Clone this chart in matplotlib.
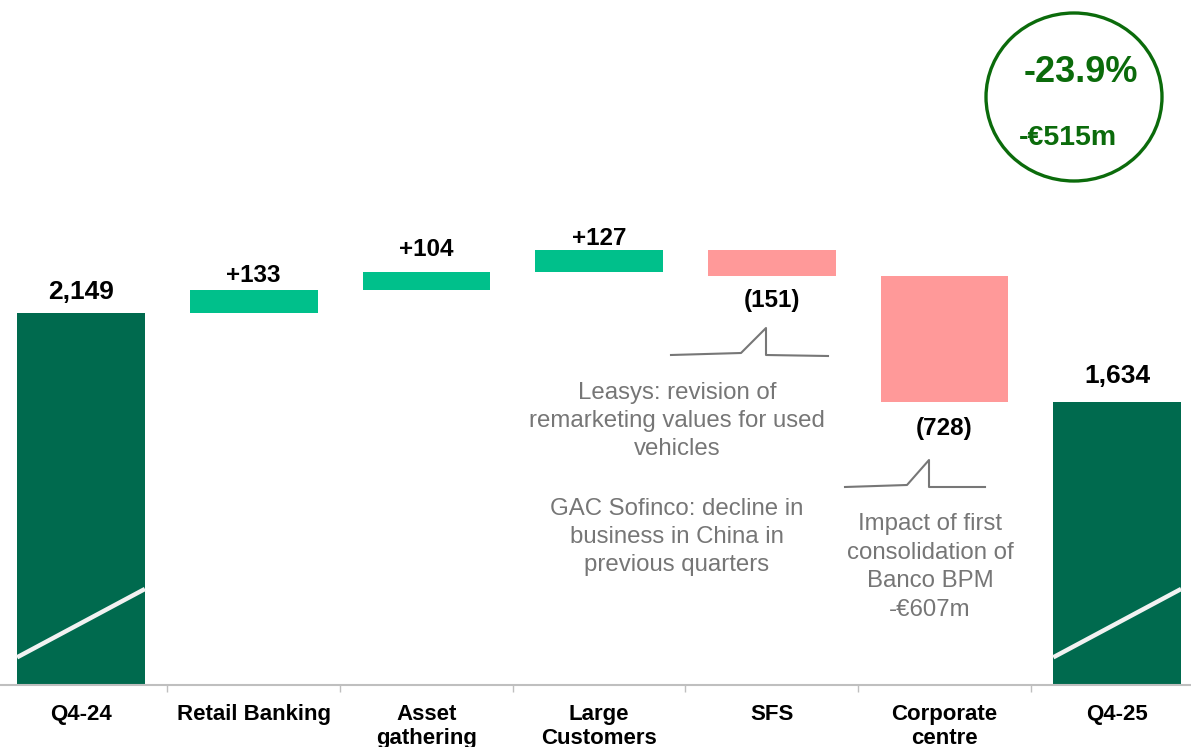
import matplotlib
matplotlib.use("Agg")
import matplotlib.pyplot as plt
from matplotlib.patches import Ellipse

plt.rcParams["font.family"] = ["Liberation Sans", "DejaVu Sans"]

# data
categories = ["Q4-24", "Retail Banking", "Asset\ngathering", "Large\nCustomers",
              "SFS", "Corporate\ncentre", "Q4-25"]
start_total = 2149
deltas = [133, 104, 127, -151, -728]
end_total = 1634
value_labels = ["2,149", "+133", "+104", "+127", "(151)", "(728)", "1,634"]
label_gap = [9, 3, 11, 0, 13, 15, 14]  # px between bar edge and label

notes = [
    "Leasys: revision of\nremarketing values for used\nvehicles",
    "GAC Sofinco: decline in\nbusiness in China in\nprevious quarters",
    "Impact of first\nconsolidation of\nBanco BPM\n-€607m",
]
badge_pct = "-23.9%"
badge_abs = "-€515m"

DARK = "#006A4E"
UP = "#00C08B"
DOWN = "#FF9999"
GREY_TXT = "#767676"
BADGE = "#0B6B0B"

W, H = 1191, 747
fig = plt.figure(figsize=(W / 100, H / 100), dpi=100)
ax = fig.add_axes([0, 62 / H, 1, 685 / H])

PX_PER_CAT = 172.7
PX_PER_UNIT = 0.173
ax.set_xlim(-81 / PX_PER_CAT, (W - 81) / PX_PER_CAT)
ax.set_ylim(0, 685 / PX_PER_UNIT)


def px(x, y):
    # figure pixel (from top-left) -> data coords
    return (x - 81) / PX_PER_CAT, (685 - y) / PX_PER_UNIT


bw = 0.74
# waterfall bars
bottoms, heights, colors = [0], [start_total], [DARK]
level = start_total
for d in deltas:
    if d >= 0:
        bottoms.append(level)
        heights.append(d)
        colors.append(UP)
    else:
        bottoms.append(level + d)
        heights.append(-d)
        colors.append(DOWN)
    level += d
bottoms.append(0)
heights.append(end_total)
colors.append(DARK)

xs = list(range(len(categories)))
ax.bar(xs, heights, bottom=bottoms, width=bw, color=colors, zorder=2)

# break slashes on the total bars
for i in (0, len(xs) - 1):
    ax.plot([i - bw / 2, i + bw / 2], [160, 555], color="#F2F2F2", lw=3.2,
            solid_capstyle="butt", zorder=3)

# value labels
deltas_all = [start_total] + deltas + [end_total]
for i, (b, h, d, lab, g) in enumerate(zip(bottoms, heights, deltas_all, value_labels, label_gap)):
    size = 19 if i in (0, len(xs) - 1) else 17.5
    if d >= 0:
        ax.annotate(lab, (i, b + h), xytext=(0, g * 0.72), textcoords="offset points",
                    ha="center", va="bottom", fontsize=size, fontweight="bold")
    else:
        ax.annotate(lab, (i, b), xytext=(0, -g * 0.72), textcoords="offset points",
                    ha="center", va="top", fontsize=size, fontweight="bold")

# notes and connectors
note_kw = dict(ha="center", va="center", fontsize=17.3, color=GREY_TXT, linespacing=1.38)
ax.text(*px(677, 421), notes[0], **note_kw)
ax.text(*px(677, 537), notes[1], **note_kw)
ax.text(*px(930, 567), notes[2], **note_kw)

conn1 = [px(671, 355), px(741, 353), px(766, 328), px(766, 355), px(828, 356)]
conn2 = [px(845, 487), px(907, 485), px(929, 460), px(929, 487), px(985, 487)]
for pts in (conn1, conn2):
    ax.plot([p[0] for p in pts], [p[1] for p in pts], color="#777777", lw=1.5, zorder=3)

# axis styling
for s in ("top", "left", "right"):
    ax.spines[s].set_visible(False)
ax.spines["bottom"].set_color("#BFBFBF")
ax.spines["bottom"].set_linewidth(1.5)
ax.set_yticks([])
ax.set_xticks(xs)
ax.set_xticklabels(categories, fontsize=16, fontweight="bold", linespacing=1.15)
ax.tick_params(axis="x", which="major", length=0, pad=14)
ax.set_xticks([i + 0.5 for i in xs[:-1]], minor=True)
ax.tick_params(axis="x", which="minor", length=5, color="#BFBFBF", width=1)

# badge
fig.add_artist(Ellipse((1074 / W, 1 - 97 / H), 176 / W, 168 / H, transform=fig.transFigure,
                       fill=False, edgecolor=BADGE, lw=2.4))
fig.text(1081 / W, 1 - 72 / H, badge_pct, ha="center", va="center", fontsize=26,
         fontweight="bold", color=BADGE)
fig.text(1068 / W, 1 - 138 / H, badge_abs, ha="center", va="center", fontsize=20.5,
         fontweight="bold", color=BADGE)

fig.savefig("out.png", dpi=100)
